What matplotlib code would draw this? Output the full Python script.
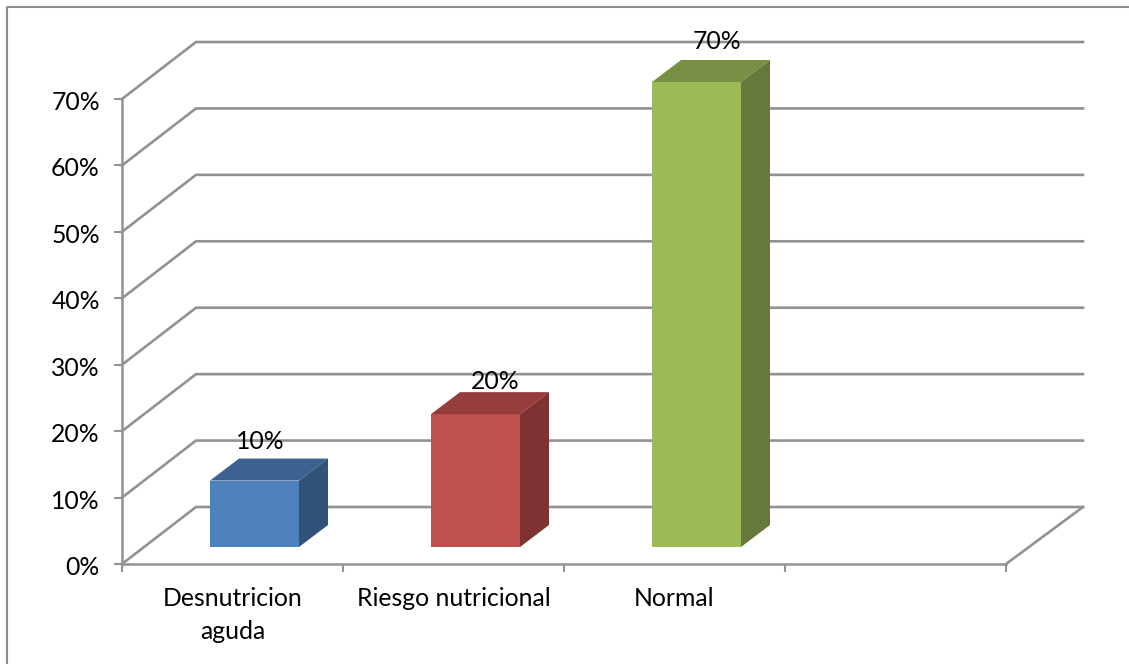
import matplotlib
matplotlib.use('Agg')
import matplotlib.pyplot as plt
from matplotlib.lines import Line2D
from matplotlib.patches import Polygon
from matplotlib.transforms import ScaledTranslation

plt.rcParams['font.family'] = ['Lato', 'DejaVu Sans']

categories = ['Desnutricion\naguda', 'Riesgo nutricional', 'Normal']
values = [10, 20, 70]
y_ticks = [0, 10, 20, 30, 40, 50, 60, 70]
front_colors = ['#4f81bd', '#c0504d', '#9bbb59']
top_colors = ['#3c6291', '#943d3b', '#779045']
side_colors = ['#32527a', '#7c3331', '#64793a']

W, H = 1129, 664
GRID = '#929292'
FS = 17.8

# wall depth and bar placement, in category units / percent
depth_x = 74 / 221
depth_y = 57 / 6.643
floor_end = 77 / 221
bar_left = 88 / 221
bar_width = 89 / 221
bar_lift = 17 / 6.643
bar_dx = 29 / 221
bar_dy = 22 / 6.643

# hand-placed value labels: nudge from the top of each bar, in points
label_nudge = [(-6, 12), (4, 8), (4, 13)]

fig = plt.figure(figsize=(W / 100, H / 100), dpi=100)

# border of the chart area, only left and top show
fig.add_artist(Line2D([6.5 / W, 6.5 / W, 1], [0, 1 - 6.5 / H, 1 - 6.5 / H], transform=fig.transFigure,
                      color='#8e8e8e', linewidth=1.5))

ax = fig.add_axes([122 / W, 1 - 564 / H, 884 / W, 465 / H])
ax.set_xlim(0, 4)
ax.set_ylim(0, 70)
ax.patch.set_visible(False)
for side in ['top', 'right']:
    ax.spines[side].set_visible(False)
for side in ['left', 'bottom']:
    ax.spines[side].set_color(GRID)
    ax.spines[side].set_linewidth(1.8)

ax.set_yticks(y_ticks)
ax.set_yticklabels([f'{v}%' for v in y_ticks])
ax.set_xticks(range(5))
ax.set_xticklabels([])
ax.tick_params(axis='y', color=GRID, width=1.5, length=6, labelsize=FS, pad=10)
ax.tick_params(axis='x', color=GRID, width=1.5, length=6)

# push the percent labels down a little
shift = ScaledTranslation(0, -1.5 / 100, fig.dpi_scale_trans)
for lab in ax.get_yticklabels():
    lab.set_transform(lab.get_transform() + shift)

# gridlines run over the left wall then along the back wall
for v in y_ticks:
    ax.plot([0, depth_x, 4 + floor_end], [v, v + depth_y, v + depth_y],
            color=GRID, linewidth=1.9, clip_on=False, zorder=1, solid_joinstyle='miter')
ax.plot([4, 4 + floor_end], [0, depth_y], color=GRID, linewidth=1.9, clip_on=False, zorder=1)

for i, (val, c_front, c_top, c_side) in enumerate(zip(values, front_colors, top_colors, side_colors)):
    x0 = i + bar_left
    x1 = x0 + bar_width
    y0 = bar_lift
    y1 = val + bar_lift
    ax.add_patch(Polygon([(x0, y0), (x1, y0), (x1, y1), (x0, y1)], facecolor=c_front,
                         edgecolor='none', clip_on=False, zorder=3))
    ax.add_patch(Polygon([(x0, y1), (x1, y1), (x1 + bar_dx, y1 + bar_dy), (x0 + bar_dx, y1 + bar_dy)],
                         facecolor=c_top, edgecolor='none', clip_on=False, zorder=3))
    ax.add_patch(Polygon([(x1, y0), (x1 + bar_dx, y0 + bar_dy), (x1 + bar_dx, y1 + bar_dy), (x1, y1)],
                         facecolor=c_side, edgecolor='none', clip_on=False, zorder=3))
    ax.annotate(f'{val}%', (x0 + bar_width / 2 + bar_dx / 2, y1 + bar_dy), xytext=label_nudge[i],
                textcoords='offset points', ha='center', va='center', fontsize=FS, color='black',
                annotation_clip=False, zorder=4)

label_x = [0.5, 1.5, 2.5]
for x, label in zip(label_x, categories):
    ax.text(x, -3.5, label, ha='center', va='top', fontsize=FS, color='black',
            linespacing=1.5, clip_on=False)

fig.savefig('out.png', dpi=100)
